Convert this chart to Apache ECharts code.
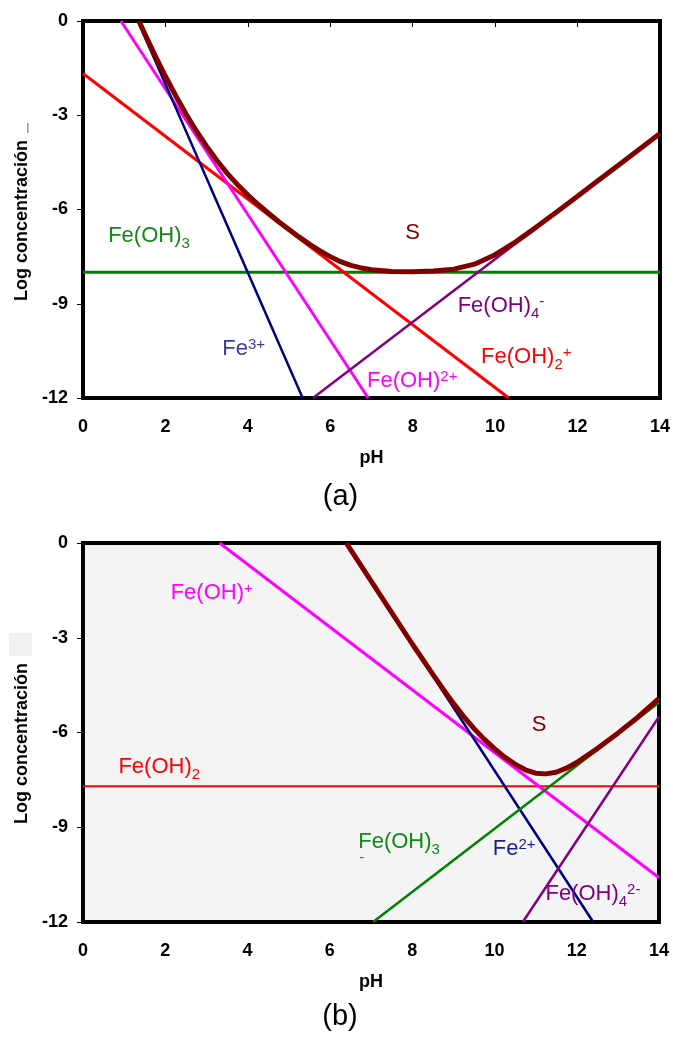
<!DOCTYPE html>
<html><head><meta charset="utf-8">
<script src="https://cdn.jsdelivr.net/npm/echarts/dist/echarts.min.js"></script>
<style>html,body{margin:0;padding:0;background:#fff}#c{width:673px;height:1039px}</style>
</head><body><div id="c"></div>
<script>
// ---------- DATA ----------
// axis ranges / ticks
const phMin = 0, phMax = 14, phStep = 2;
const logMin = -12, logMax = 0, logStep = 3;

// panel (a): Fe(III) species, log concentration vs pH (line end points)
const a_Fe3      = [[1.33, 0], [5.33, -12]];
const a_FeOH_2p  = [[0.92, 0], [6.92, -12]];
const a_FeOH2_p  = [[0, -1.67], [10.33, -12]];
const a_FeOH3    = [[0, -8], [14, -8]];
const a_FeOH4_m  = [[5.58, -12], [14, -3.58]];
// panel (a): total solubility S
const a_S_pH  = [1.36, 1.5, 1.75, 2.0, 2.25, 2.5, 2.75, 3.0, 3.25, 3.5, 3.75, 4.0, 4.25, 4.5, 4.75, 5.0, 5.25, 5.5, 5.75, 6.0, 6.25, 6.5, 6.75, 7.0, 7.5, 8.0, 8.5, 9.0, 9.5, 10.0, 10.5, 11.0, 11.5, 12.0, 12.5, 13.0, 13.5, 14.0];
const a_S_log = [-0.01, -0.41, -1.10, -1.76, -2.38, -2.96, -3.50, -3.99, -4.44, -4.85, -5.21, -5.54, -5.84, -6.12, -6.39, -6.64, -6.88, -7.11, -7.32, -7.50, -7.66, -7.78, -7.86, -7.92, -7.97, -7.98, -7.96, -7.90, -7.74, -7.44, -7.03, -6.56, -6.07, -5.58, -5.08, -4.58, -4.08, -3.58];

// panel (b): Fe(II) species
const b_Fe2      = [[6.4, 0], [12.4, -12]];
const b_FeOH_p   = [[3.32, 0], [14, -10.6]];
const b_FeOH2    = [[0, -7.7], [14, -7.7]];
const b_FeOH3_m  = [[7.05, -12], [14, -5.05]];
const b_FeOH4_2m = [[10.69, -12], [14, -5.5]];
// panel (b): total solubility S
const b_S_pH  = [6.4, 6.5, 7.0, 7.5, 8.0, 8.5, 8.75, 9.0, 9.25, 9.5, 9.75, 10.0, 10.25, 10.5, 10.75, 11.0, 11.25, 11.5, 11.75, 12.0, 12.5, 13.0, 13.5, 14.0];
const b_S_log = [0.00, -0.20, -1.20, -2.20, -3.19, -4.15, -4.62, -5.07, -5.49, -5.87, -6.21, -6.51, -6.78, -7.00, -7.18, -7.29, -7.31, -7.26, -7.13, -6.95, -6.51, -6.02, -5.50, -4.92];

// text
const yName = 'Log concentración';
const xName = 'pH';
const panelTags = ['(a)', '(b)'];

// ---------- CHART ----------
const FONT = '"Liberation Sans", Arial, Helvetica, sans-serif';
const zip = (xs, ys) => xs.map((x, i) => [x, ys[i]]);

const chart = echarts.init(document.getElementById('c'), null, {renderer: 'canvas'});

function yAxisCfg(grid) {
  return {
    type: 'value', gridIndex: grid, min: logMin, max: logMax, interval: logStep,
    name: yName, nameLocation: 'middle', nameGap: 51,
    nameTextStyle: {fontFamily: FONT, fontWeight: 'bold', fontSize: 18, color: '#000', padding: [0, 22, 0, 0]},
    axisLine: {show: false},
    axisTick: {show: true, inside: false, length: 6, lineStyle: {color: '#000', width: 1}},
    axisLabel: {fontFamily: FONT, fontWeight: 'bold', fontSize: 18, color: '#000', margin: 15},
    splitLine: {show: false}
  };
}
function xAxisCfg(grid) {
  return {
    type: 'value', gridIndex: grid, min: phMin, max: phMax, interval: phStep, position: 'bottom',
    name: xName, nameLocation: 'middle', nameGap: 51,
    nameTextStyle: {fontFamily: FONT, fontWeight: 'bold', fontSize: 18, color: '#000'},
    axisLine: {show: false},
    axisTick: {show: false},
    axisLabel: {fontFamily: FONT, fontWeight: 'bold', fontSize: 18, color: '#000', margin: 20},
    splitLine: {show: false}
  };
}
function line(data, color, width, xi, yi, z) {
  return {type: 'line', data, xAxisIndex: xi, yAxisIndex: yi, symbol: 'none', silent: true,
    lineStyle: {color, width}, z: z || 2, animation: false, clip: true};
}

const option = {
  animation: false,
  backgroundColor: '#fff',
  grid: [
    {left: 83, top: 21, width: 578, height: 377, show: true, borderColor: '#000', borderWidth: 4, backgroundColor: '#fff'},
    {left: 83, top: 543, width: 576, height: 379, show: true, borderColor: '#000', borderWidth: 4, backgroundColor: '#f4f4f4'}
  ],
  xAxis: [
    xAxisCfg(0),
    {type: 'value', gridIndex: 0, min: phMin, max: phMax, interval: phStep, position: 'top',
      axisLine: {show: false}, axisLabel: {show: false}, splitLine: {show: false},
      axisTick: {show: true, inside: true, length: 6, lineStyle: {color: '#000', width: 1}}},
    xAxisCfg(1)
  ],
  yAxis: [yAxisCfg(0), yAxisCfg(1)],
  series: [
    line(a_FeOH3, '#008000', 3, 0, 0),
    line(a_FeOH2_p, '#ff0000', 3, 0, 0),
    line(a_FeOH_2p, '#ff00ff', 3, 0, 0),
    line(a_Fe3, '#000080', 2.5, 0, 0),
    line(a_FeOH4_m, '#800080', 2.5, 0, 0),
    line(zip(a_S_pH, a_S_log), '#800000', 5, 0, 0, 3),

    line(b_FeOH2, '#ff0000', 2, 2, 1),
    line(b_FeOH_p, '#ff00ff', 3, 2, 1),
    line(b_Fe2, '#000080', 2.5, 2, 1),
    line(b_FeOH3_m, '#008000', 2.5, 2, 1),
    line(b_FeOH4_2m, '#800080', 2.5, 2, 1),
    line(zip(b_S_pH, b_S_log), '#800000', 5, 2, 1, 3)
  ]
};
chart.setOption(option);

// ---------- species labels (anchored in data coordinates) ----------
const labelDefs = [
  {g: 0, at: [0.61, -6.85], main: 'Fe(OH)', sub: '3', sup: '', color: '#128a12'},
  {g: 0, at: [7.82, -6.76], main: 'S', sub: '', sup: '', color: '#800000'},
  {g: 0, at: [9.09, -9.06], main: 'Fe(OH)', sub: '4', sup: '-', color: '#800080'},
  {g: 0, at: [3.38, -10.44], main: 'Fe', sub: '', sup: '3+', color: '#3a3a9e'},
  {g: 0, at: [9.66, -10.68], main: 'Fe(OH)', sub: '2', sup: '+', color: '#ff0000'},
  {g: 0, at: [6.89, -11.45], main: 'Fe(OH)', sub: '', sup: '2+', color: '#ff00ff'},

  {g: 1, at: [2.13, -1.59], main: 'Fe(OH)', sub: '', sup: '+', color: '#ff00ff'},
  {g: 1, at: [10.91, -5.75], main: 'S', sub: '', sup: '', color: '#800000'},
  {g: 1, at: [0.86, -7.09], main: 'Fe(OH)', sub: '2', sup: '', color: '#ff0000'},
  {g: 1, at: [6.69, -9.47], main: 'Fe(OH)', sub: '3', sup: '', color: '#128a12', under: '-'},
  {g: 1, at: [9.96, -9.70], main: 'Fe', sub: '', sup: '2+', color: '#1c1c8c'},
  {g: 1, at: [11.24, -11.10], main: 'Fe(OH)', sub: '4', sup: '2-', color: '#800080'}
];

const MAIN_FS = 22, SMALL_FS = 15;
const mctx = document.createElement('canvas').getContext('2d');
function tw(t, fs) { mctx.font = fs + 'px ' + FONT; return mctx.measureText(t).width; }
function txt(t, x, y, fs, color, extra) {
  return Object.assign({type: 'text', x, y, silent: true, z: 100,
    style: {text: t, fill: color, fontSize: fs, fontFamily: FONT, fontWeight: 'normal',
      align: 'left', verticalAlign: 'middle', textAlign: 'left', textVerticalAlign: 'middle'}}, extra || {});
}

const gfx = [];
labelDefs.forEach(d => {
  const p = chart.convertToPixel({gridIndex: d.g}, d.at);
  const x0 = p[0], yc = p[1];
  gfx.push(txt(d.main, x0, yc, MAIN_FS, d.color));
  let x = x0 + tw(d.main, MAIN_FS);
  if (d.sub) { gfx.push(txt(d.sub, x, yc + 8, SMALL_FS, d.color)); x += tw(d.sub, SMALL_FS); }
  if (d.sup) { gfx.push(txt(d.sup, x, yc - 4, SMALL_FS, d.color)); }
  if (d.under) { gfx.push(txt(d.under, x0 + 1, yc + 16, SMALL_FS, d.color)); }
});

// panel tags
const gA = chart.convertToPixel({gridIndex: 0}, [7, -12]);
const gB = chart.convertToPixel({gridIndex: 1}, [7, -12]);
gfx.push({type: 'text', x: gA[0] - 31, y: gA[1] + 99, silent: true, z: 100,
  style: {text: panelTags[0], fill: '#000', fontSize: 29, fontFamily: FONT, align: 'center', verticalAlign: 'middle', textAlign: 'center', textVerticalAlign: 'middle'}});
gfx.push({type: 'text', x: gB[0] - 31, y: gB[1] + 95, silent: true, z: 100,
  style: {text: panelTags[1], fill: '#000', fontSize: 29, fontFamily: FONT, align: 'center', verticalAlign: 'middle', textAlign: 'center', textVerticalAlign: 'middle'}});

// small artefacts next to the y-axis titles
gfx.push({type: 'rect', shape: {x: 27, y: 123, width: 1.5, height: 10}, style: {fill: '#9a9a9a'}, silent: true});
gfx.push({type: 'rect', shape: {x: 9, y: 633, width: 23, height: 23}, style: {fill: '#f2f2f2'}, silent: true});

chart.setOption({graphic: gfx});
</script>
</body></html>
